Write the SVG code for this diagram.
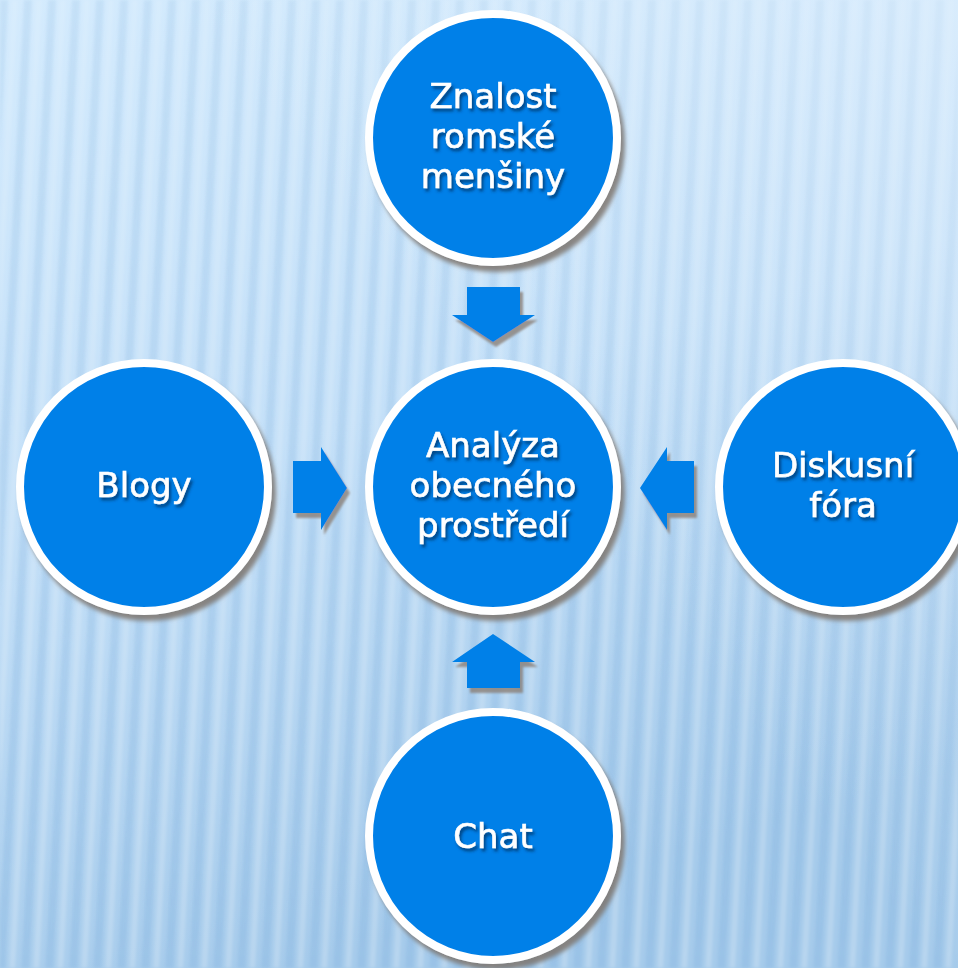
<svg xmlns="http://www.w3.org/2000/svg" width="958" height="968" viewBox="0 0 958 968">
<defs>
<linearGradient id="bg" x1="0" y1="0" x2="0.3" y2="1">
<stop offset="0" stop-color="#d4ebfd"/>
<stop offset="0.5" stop-color="#c4e0f8"/>
<stop offset="1" stop-color="#a6cbeb"/>
</linearGradient>
<linearGradient id="fadeTR" x1="1" y1="0" x2="0.5" y2="0.4">
<stop offset="0" stop-color="#e6f3ff" stop-opacity="0.5"/>
<stop offset="1" stop-color="#e6f3ff" stop-opacity="0"/>
</linearGradient>
<pattern id="stripes" width="24" height="968" patternUnits="userSpaceOnUse" patternTransform="skewX(-3)">
<rect x="0" y="0" width="8" height="968" fill="#80b2de" opacity="0.3"/>
<rect x="12" y="0" width="6" height="968" fill="#ffffff" opacity="0.2"/>
</pattern>
<filter id="soft"><feGaussianBlur stdDeviation="1.8"/></filter>
<linearGradient id="stripeFade" x1="0" y1="0" x2="0" y2="1">
<stop offset="0" stop-color="#fff" stop-opacity="0.55"/>
<stop offset="1" stop-color="#fff" stop-opacity="1"/>
</linearGradient>
<mask id="stripeMask">
<rect width="958" height="968" fill="url(#stripeFade)"/>
</mask>
<filter id="cshadow" x="-20%" y="-20%" width="140%" height="140%">
<feGaussianBlur in="SourceAlpha" stdDeviation="2"/>
<feOffset dx="4" dy="6" result="b"/>
<feFlood flood-color="#7d756e" flood-opacity="0.85"/>
<feComposite in2="b" operator="in" result="s"/>
<feMerge><feMergeNode in="s"/><feMergeNode in="SourceGraphic"/></feMerge>
</filter>
<filter id="ashadow" x="-30%" y="-30%" width="160%" height="160%">
<feGaussianBlur in="SourceAlpha" stdDeviation="1"/>
<feOffset dx="3" dy="5" result="b"/>
<feFlood flood-color="#8a8078" flood-opacity="0.8"/>
<feComposite in2="b" operator="in" result="s"/>
<feMerge><feMergeNode in="s"/><feMergeNode in="SourceGraphic"/></feMerge>
</filter>
<filter id="tshadow" x="-10%" y="-30%" width="120%" height="160%">
<feGaussianBlur in="SourceAlpha" stdDeviation="1.5"/>
<feOffset dx="2" dy="3" result="b"/>
<feFlood flood-color="#0a2a55" flood-opacity="0.7"/>
<feComposite in2="b" operator="in" result="s"/>
<feMerge><feMergeNode in="s"/><feMergeNode in="SourceGraphic"/></feMerge>
</filter>
</defs>
<style>
.node circle { fill: #0480e8; stroke: #ffffff; stroke-width: 8; }
.node text { font-family: "DejaVu Sans", "Liberation Sans", sans-serif; font-size: 34px; fill: #ffffff; stroke: #ffffff; stroke-width: 0.6; text-anchor: middle; }
.arrow { fill: #0480e8; }
</style>
<rect width="958" height="968" fill="url(#bg)"/>
<g mask="url(#stripeMask)"><rect width="958" height="968" fill="url(#stripes)" filter="url(#soft)"/></g>
<rect width="958" height="968" fill="url(#fadeTR)"/>

<g id="connectors">
<polygon class="arrow" filter="url(#ashadow)" points="467,287 520,287 520,315 535,315 493,342 452,315 467,315"/>
<polygon class="arrow" filter="url(#ashadow)" points="467,688 520,688 520,662 535,662 493,634 452,662 467,662"/>
<polygon class="arrow" filter="url(#ashadow)" points="293,461 321,461 321,447 347,488 321,530 321,513 293,513"/>
<polygon class="arrow" filter="url(#ashadow)" points="694,461 667,461 667,447 640,488 667,530 667,513 694,513"/>
</g>

<g id="node-znalost" class="node">
<circle cx="493" cy="138" r="124" filter="url(#cshadow)"/>
<g filter="url(#tshadow)"><text x="493" y="108">Znalost</text><text x="493" y="148">romské</text><text x="493" y="188">menšiny</text></g>
</g>
<g id="node-analyza" class="node">
<circle cx="493" cy="487" r="124" filter="url(#cshadow)"/>
<g filter="url(#tshadow)"><text x="493" y="457">Analýza</text><text x="493" y="497">obecného</text><text x="493" y="537">prostředí</text></g>
</g>
<g id="node-blogy" class="node">
<circle cx="144" cy="487" r="124" filter="url(#cshadow)"/>
<g filter="url(#tshadow)"><text x="144" y="497">Blogy</text></g>
</g>
<g id="node-diskusni" class="node">
<circle cx="843" cy="487" r="124" filter="url(#cshadow)"/>
<g filter="url(#tshadow)"><text x="843" y="477">Diskusní</text><text x="843" y="517">fóra</text></g>
</g>
<g id="node-chat" class="node">
<circle cx="493" cy="836" r="124" filter="url(#cshadow)"/>
<g filter="url(#tshadow)"><text x="493" y="848">Chat</text></g>
</g>
</svg>
